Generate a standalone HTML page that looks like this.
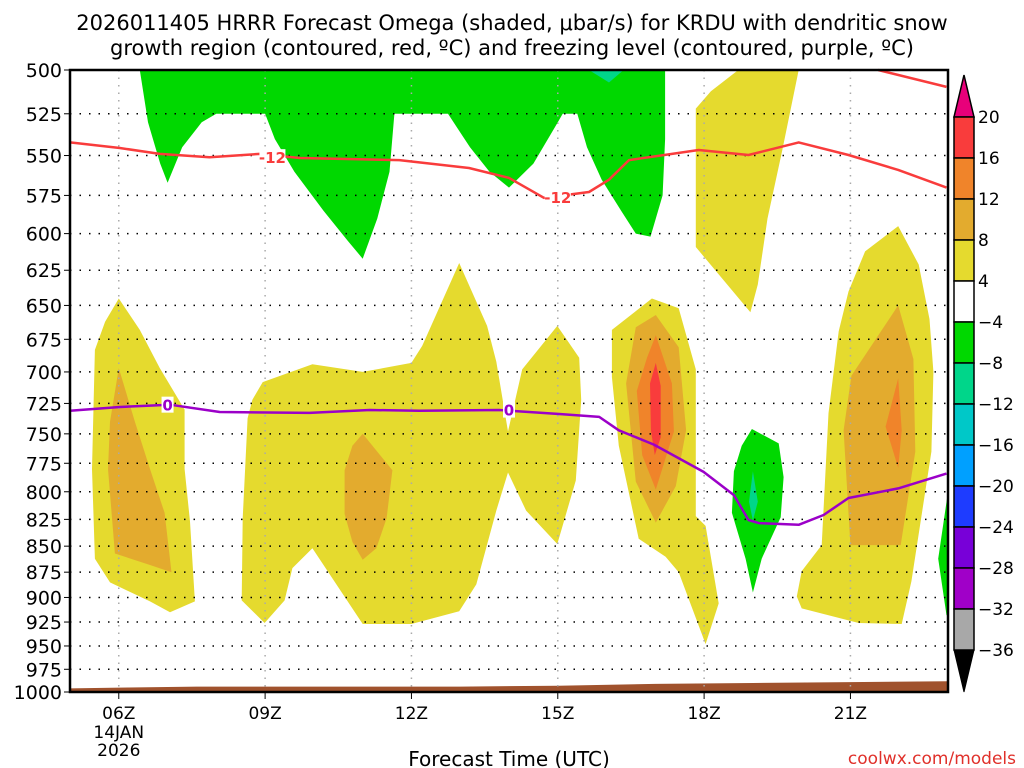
<!DOCTYPE html>
<html><head><meta charset="utf-8"><style>
body{margin:0;background:#fff;width:1024px;height:768px;overflow:hidden}
svg{display:block;font-family:"DejaVu Sans","Liberation Sans",sans-serif}
</style></head><body>
<svg id="chart" width="1024" height="768" viewBox="0 0 1024 768">
<text x="512" y="30" text-anchor="middle" font-size="21" fill="#000">2026011405 HRRR Forecast Omega (shaded, μbar/s) for KRDU with dendritic snow</text>
<text x="512" y="55" text-anchor="middle" font-size="21" fill="#000">growth region (contoured, red, ºC) and freezing level (contoured, purple, ºC)</text>
<g id="fills"></g><g id="grid"></g><g id="lines"></g><g id="axes"></g><g id="cbar"></g>
<text x="509" y="766" text-anchor="middle" font-size="20" fill="#000">Forecast Time (UTC)</text>
<text x="1016" y="764" text-anchor="end" font-size="17" fill="#e0302a">coolwx.com/models</text>
</svg>
<script>
const hourTicks=[6,9,12,15,18,21];
const hourLabels=["06Z","09Z","12Z","15Z","18Z","21Z"];
const pressureLevels=[500,525,550,575,600,625,650,675,700,725,750,775,800,825,850,875,900,925,950,975,1000];
const cbarLevels=[20,16,12,8,4,-4,-8,-12,-16,-20,-24,-28,-32,-36];
const cbarColors=["#f93c3c","#f0842a","#e3ab2e","#e5da2e","#ffffff","#00d800","#00d68a","#00c8c8","#00a0ff","#1e3cff","#7800d8","#a000c8","#a8a8a8"];
const greenTopH=[6.43,6.6,6.85,7.0,7.3,7.7,8.0,9.0,9.2,9.6,10.2,10.7,11.0,11.3,11.55,11.65,12.75,13.2,13.6,14.0,14.5,15.0,15.1,15.4,15.6,15.9,16.3,16.6,16.9,17.15,17.2,17.2];
const greenTopP=[500,530,555,567,545,530,525,525,540,560,585,605,617,590,560,525,525,545,560,570,555,530,525,525,545,565,585,600,602,575,540,500];
const cyanTopH=[15.64,16.05,16.35];const cyanTopP=[500,507,500];
const yelTopRH=[18.7,18.14,17.83,17.83,18.95,19.1,19.3,19.6,19.94];
const yelTopRP=[500,512,522,609,655,635,590,547,500];
const yelLeftH=[6.0,6.43,6.84,7.35,7.35,7.46,7.56,7.05,6.64,5.82,5.51,5.45,5.51,5.72];
const yelLeftP=[645,668,697,730,780,827,904,915,904,885,862,780,683,662];
const orLeftH=[6.0,6.33,6.64,6.94,7.08,6.64,5.92,5.78,5.82];
const orLeftP=[697,740,780,819,875,868,857,780,740];
const yelMidH=[8.95,9.97,11.0,12.0,12.22,12.98,13.55,13.74,13.98,14.27,14.99,15.44,15.48,15.37,14.99,14.35,13.98,13.74,13.33,12.98,12.0,11.0,9.97,9.56,9.40,8.99,8.52,8.54,8.64,8.74];
const yelMidP=[708,694,700,693,680,620,665,692,748,698,665,689,722,790,848,817,783,817,887,914,927,927,852,871,903,926,903,824,737,722];
const orMidH=[11.0,11.61,11.49,11.28,11.0,10.79,10.63,10.63,10.79];
const orMidP=[750,781,824,852,863,846,820,781,760];
const yel17H=[16.11,16.93,17.48,17.83,17.83,18.03,18.30,18.03,17.48,17.21,16.66,16.25,16.11];
const yel17P=[668,645,652,698,822,831,906,948,875,860,843,760,704];
const or8_17H=[17.01,17.48,17.63,17.42,17.01,16.6,16.4,16.6];
const or8_17P=[657,681,747,795,828,791,709,666];
const or12_17H=[17.01,17.34,17.38,17.01,16.73,16.62,16.83];
const or12_17P=[672,709,748,798,768,715,689];
const red17H=[17.01,17.11,17.11,16.99,16.91,16.89];
const red17P=[693,711,753,768,747,709];
const green19H=[18.98,19.53,19.63,19.57,19.18,19.0,18.85,18.57,18.61,18.77];
const green19P=[746,758,787,823,862,895,862,819,782,760];
const cyan19H=[19.0,19.1,19.0,18.92];const cyan19P=[782,809,826,809];
const yel21H=[21.98,22.4,22.62,22.7,22.66,22.25,22.05,21.17,20.0,19.90,20.0,20.41,20.55,20.76,20.96,21.3];
const yel21P=[595,621,660,700,765,884,927,926,911,899,874,849,733,669,640,612];
const or21H=[21.98,22.29,22.33,22.03,21.0,20.86,21.02];
const or21P=[650,690,765,849,849,747,703];
const dor21H=[21.98,22.05,21.98,21.72];const dor21P=[705,747,779,744];
const greenRH=[23.0,22.8,22.97,23.0];const greenRP=[800,862,918,918];
const groundH=[5,6.2,7.6,13,15,17,19,21,23];
const groundP=[996,995,994,994,993,991,990,989,988];
const dgzH=[5,6.02,6.84,7.86,8.89,9.71,11.75,13.18,14.0,14.72,15.64,16.05,16.46,17.89,18.91,19.94,20.96,21.98,22.97];
const dgzP=[542,545.4,549,551,549,551.5,552.8,557.7,563.9,576.6,572.8,565,552.8,546.6,549.7,542,549.7,558.9,570];
const dgz2H=[21.57,22.97];const dgz2P=[500,509.5];
const frzH=[5,6.02,7.05,8.07,9.91,11.14,12.16,13.8,15.03,15.85,16.25,16.97,17.99,18.61,18.91,19.12,19.94,20.45,20.96,21.98,22.97];
const frzP=[731,727.9,726,732,732.7,730.3,731,730.3,733.6,736,747,759,782.5,803,825.6,828.4,830,821,805.6,797,784];

const X0=70,X1=948,Y0=70,Y1=692,H0=5,H1=23;
function xs(h){return X0+(h-H0)/(H1-H0)*(X1-X0);}
function ys(p){return Y0+Math.log(p/500)/Math.log(2)*(Y1-Y0);}
const NS="http://www.w3.org/2000/svg";
function mk(tag,attrs,parent){const e=document.createElementNS(NS,tag);for(const k in attrs)e.setAttribute(k,attrs[k]);parent.appendChild(e);return e;}
function pts(H,P){return H.map((h,i)=>xs(h).toFixed(1)+","+ys(P[i]).toFixed(1)).join(" ");}
const fills=document.getElementById('fills'),grid=document.getElementById('grid'),lines=document.getElementById('lines'),axes=document.getElementById('axes'),cb=document.getElementById('cbar');
const regions=[["green-top",greenTopH,greenTopP,"#00d800"],["cyan-top",cyanTopH,cyanTopP,"#00d68a"],["yellow-top-right",yelTopRH,yelTopRP,"#e5da2e"],
["yellow-left",yelLeftH,yelLeftP,"#e5da2e"],["orange-left",orLeftH,orLeftP,"#e3ab2e"],["yellow-mid",yelMidH,yelMidP,"#e5da2e"],["orange-mid",orMidH,orMidP,"#e3ab2e"],
["yellow-17z",yel17H,yel17P,"#e5da2e"],["orange8-17z",or8_17H,or8_17P,"#e3ab2e"],["orange12-17z",or12_17H,or12_17P,"#f0842a"],["red-17z",red17H,red17P,"#f93c3c"],
["green-19z",green19H,green19P,"#00d800"],["cyan-19z",cyan19H,cyan19P,"#00d68a"],["yellow-21z",yel21H,yel21P,"#e5da2e"],["orange-21z",or21H,or21P,"#e3ab2e"],["darkorange-21z",dor21H,dor21P,"#f0842a"],["green-right",greenRH,greenRP,"#00d800"]];
regions.forEach(r=>{const e=mk('polygon',{points:pts(r[1],r[2]),fill:r[3]},fills);

});
const gp=pts(groundH,groundP)+" "+xs(23)+","+Y1+" "+xs(5)+","+Y1;
const g=mk('polygon',{points:gp,fill:"#a0522d"},fills);


pressureLevels.forEach((p,i)=>{
 if(i>0){const l=mk('line',{x1:X0,x2:X1,y1:ys(p),y2:ys(p),stroke:"#000","stroke-width":1.5,"stroke-dasharray":"1.5 8"},grid);
 
 }
 const t=mk('line',{x1:X0-6,x2:X0,y1:ys(p),y2:ys(p),stroke:"#000"},axes);
 
 
 const tx=mk('text',{x:X0-8,y:ys(p)+7,"text-anchor":"end","font-size":19,fill:"#000"},axes);tx.textContent=p;
 
 
});
hourTicks.forEach((h,i)=>{
 const l=mk('line',{x1:xs(h),x2:xs(h),y1:Y0,y2:Y1,stroke:"#aaa","stroke-width":1.5,"stroke-dasharray":"1.5 6"},grid);
 
 
 const t=mk('line',{x1:xs(h),x2:xs(h),y1:Y1,y2:Y1+7,stroke:"#000"},axes);
 
 
 const tx=mk('text',{x:xs(h),y:719,"text-anchor":"middle","font-size":17,fill:"#000"},axes);tx.textContent=hourLabels[i];
 
 
});
[["14JAN",738],["2026",756]].forEach(d=>{const tx=mk('text',{x:xs(6),y:d[1],"text-anchor":"middle","font-size":17,fill:"#000"},axes);tx.textContent=d[0];
 
 });
function pl(H,P,c,name){const e=mk('polyline',{points:pts(H,P),fill:"none",stroke:c,"stroke-width":2.5,"stroke-linejoin":"round"},lines);
 
 }
pl(dgzH,dgzP,"#f93c3c","dgz-contour-minus12");
pl(dgz2H,dgz2P,"#f93c3c","dgz-contour-minus12-top");
pl(frzH,frzP,"#9b00c8","freezing-level-contour");
function lab(h,p,txt,c,name,w){const r=mk('rect',{x:xs(h)-w/2,y:ys(p)-8,width:w,height:16,fill:"#fff"},lines);
 
 
 const t=mk('text',{x:xs(h),y:ys(p)+6,"text-anchor":"middle","font-size":15,"font-weight":"bold",fill:c},lines);t.textContent=txt;
 
 }
lab(9.15,551,"-12","#f93c3c","dgz-label-1",26);
lab(15.0,576,"-12","#f93c3c","dgz-label-2",26);
lab(7.0,726,"0","#9b00c8","freezing-label-1",12);
lab(14.0,730,"0","#9b00c8","freezing-label-2",12);
const fr=mk('rect',{x:X0,y:Y0,width:X1-X0,height:Y1-Y0,fill:"none",stroke:"#000","stroke-width":2.5},axes);


const CX=954,CW=20,CT=117,CB=650,bh=(CB-CT)/(cbarLevels.length-1);
const tri1=mk('polygon',{points:`${CX},${CT} ${CX+CW},${CT} ${CX+CW/2},${CT-42}`,fill:"#e8007a",stroke:"#000","stroke-width":1.5},cb);


cbarColors.forEach((c,i)=>{const r=mk('rect',{x:CX,y:CT+i*bh,width:CW,height:bh,fill:c,stroke:"#000","stroke-width":1.5},cb);
 
 });
const tri2=mk('polygon',{points:`${CX},${CB} ${CX+CW},${CB} ${CX+CW/2},${CB+42}`,fill:"#000",stroke:"#000"},cb);


cbarLevels.forEach((v,i)=>{const t=mk('text',{x:CX+CW+4,y:CT+i*bh+6,"font-size":17,fill:"#000"},cb);t.textContent=v<0?"\u2212"+(-v):v;
 
 });
</script>
</body></html>
